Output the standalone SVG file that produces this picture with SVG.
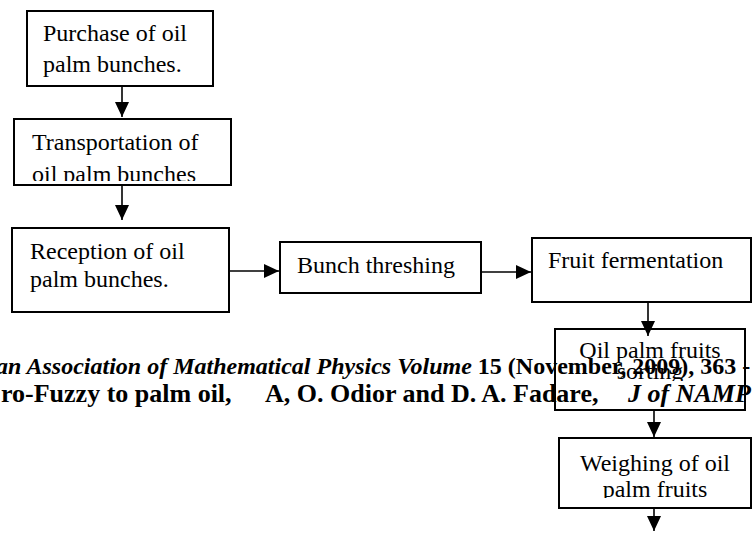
<svg xmlns="http://www.w3.org/2000/svg" width="752" height="539" viewBox="0 0 752 539">
<style>
.box{fill:none;stroke:#000;stroke-width:2}
.t{font-family:"Liberation Serif","Times New Roman",serif;font-size:24px;fill:#000}
.c{stroke:#000;stroke-width:1.6;fill:none}
.j{font-family:"Liberation Serif","Times New Roman",serif;font-weight:bold;fill:#000}
</style>
<defs>
<marker id="ah" markerUnits="userSpaceOnUse" markerWidth="15" markerHeight="14" refX="15" refY="7" orient="auto">
<path d="M0,0 L15,7 L0,14 z" fill="#000"/>
</marker>
<clipPath id="clipT"><rect x="14" y="119" width="217" height="62"/></clipPath>
<clipPath id="clipS"><rect x="555" y="329" width="190" height="52"/></clipPath>
<clipPath id="clipW"><rect x="559" y="438" width="192" height="60"/></clipPath>
</defs>
<rect width="752" height="539" fill="#fff"/>
<g id="purchase">
<rect class="box" x="27" y="11" width="186" height="75"/>
<text class="t" x="43" y="41">Purchase of oil</text>
<text class="t" x="43" y="72">palm bunches.</text>
</g>
<g id="transport">
<rect class="box" x="14" y="119" width="217" height="66"/>
<g clip-path="url(#clipT)">
<text class="t" x="32" y="150">Transportation of</text>
<text class="t" x="32" y="182">oil palm bunches</text>
</g>
</g>
<g id="reception">
<rect class="box" x="12" y="228" width="217" height="84"/>
<text class="t" x="30" y="259">Reception of oil</text>
<text class="t" x="30" y="287">palm bunches.</text>
</g>
<g id="threshing">
<rect class="box" x="280" y="242" width="201" height="51"/>
<text class="t" x="297" y="273">Bunch threshing</text>
</g>
<g id="fermentation">
<rect class="box" x="532" y="238" width="219" height="64"/>
<text class="t" x="548" y="268">Fruit fermentation</text>
</g>
<g id="sorting">
<rect class="box" x="555" y="329" width="190" height="81"/>
<g clip-path="url(#clipS)">
<text class="t" x="650" y="358" text-anchor="middle">Oil palm fruits</text>
<text class="t" x="650" y="379" text-anchor="middle">sorting</text>
</g>
</g>
<g id="weighing">
<rect class="box" x="559" y="438" width="192" height="70"/>
<g clip-path="url(#clipW)">
<text class="t" x="655" y="471" text-anchor="middle">Weighing of oil</text>
<text class="t" x="655" y="497" text-anchor="middle">palm fruits</text>
</g>
</g>
<g id="connectors">
<line class="c" x1="122" y1="87" x2="122" y2="117" marker-end="url(#ah)"/>
<line class="c" x1="122" y1="185" x2="122" y2="220" marker-end="url(#ah)"/>
<line class="c" x1="229" y1="271" x2="279" y2="271" marker-end="url(#ah)"/>
<line class="c" x1="481" y1="272" x2="531" y2="272" marker-end="url(#ah)"/>
<line class="c" x1="648" y1="302" x2="648" y2="336" marker-end="url(#ah)"/>
<line class="c" x1="654" y1="410" x2="654" y2="437" marker-end="url(#ah)"/>
<line class="c" x1="654" y1="508" x2="654" y2="531" marker-end="url(#ah)"/>
</g>
<g id="journal">
<text class="j" x="-4" y="374" font-size="24"><tspan font-style="italic">an Association of Mathematical Physics Volume</tspan> 15 (November, 2009), 363 -</text>
<text class="j" y="402" font-size="26"><tspan x="1">ro-Fuzzy to palm oil,</tspan><tspan x="265">A, O. Odior and D. A. Fadare,</tspan><tspan x="628" font-style="italic">J of NAMP</tspan></text>
</g>
</svg>
